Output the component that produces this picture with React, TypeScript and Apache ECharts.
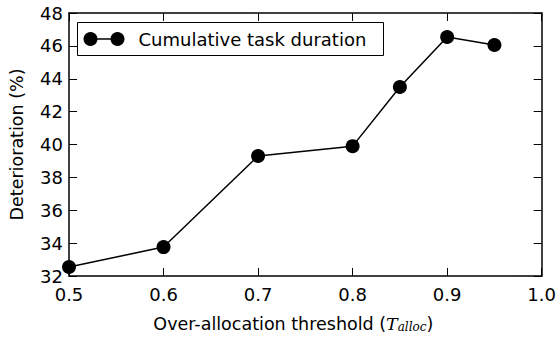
import React, { useEffect, useRef } from "react";
import * as echarts from "echarts";

const thresholds = [0.5, 0.6, 0.7, 0.8, 0.85, 0.9, 0.95];
const deterioration = [32.55, 33.76, 39.3, 39.9, 43.5, 46.54, 46.05];
const seriesName = "Cumulative task duration";
const yLabel = "Deterioration (%)";

const FONT = "DejaVu Sans";

export default function App() {
  const ref = useRef<HTMLDivElement>(null);
  useEffect(() => {
    if (!ref.current) return;
    const chart = echarts.init(ref.current, null, { renderer: "svg" });
    const data = thresholds.map((t, i) => [t, deterioration[i]]);
    const axisLine = { show: true, lineStyle: { color: "#000", width: 1.5 } };
    const tick = { show: true, inside: true, length: 8, lineStyle: { color: "#000", width: 1 } };
    const label = { color: "#000", fontFamily: FONT, fontSize: 18 };
    chart.setOption({
      animation: false,
      backgroundColor: "#fff",
      textStyle: { fontFamily: FONT },
      grid: { left: 68, right: 16, top: 13, bottom: 63 },
      xAxis: [
        {
          type: "value", min: 0.5, max: 1.0, interval: 0.1,
          axisLine, axisTick: tick, splitLine: { show: false },
          axisLabel: { ...label, margin: 9, formatter: (v: number) => v.toFixed(1) },
          name: "{n|Over-allocation threshold (}{i|T}{s|alloc}{n|)}",
          nameLocation: "middle", nameGap: 38,
          nameTextStyle: {
            padding: [0, 24, 0, 0],
            rich: {
              n: { fontFamily: FONT, fontSize: 17.5, color: "#000" },
              i: { fontFamily: "DejaVu Serif", fontStyle: "italic", fontSize: 17.5, color: "#000" },
              s: { fontFamily: "DejaVu Serif", fontStyle: "italic", fontSize: 12, color: "#000", verticalAlign: "bottom", padding: [7, 0, 0, 0] },
            },
          },
        },
        {
          type: "value", position: "top", min: 0.5, max: 1.0, interval: 0.1,
          axisLine, axisTick: tick, axisLabel: { show: false }, splitLine: { show: false },
        },
      ],
      yAxis: [
        {
          type: "value", min: 32, max: 48, interval: 2,
          axisLine, axisTick: tick, splitLine: { show: false },
          axisLabel: { ...label, margin: 6 },
          name: yLabel, nameLocation: "middle", nameGap: 43,
          nameTextStyle: { fontFamily: FONT, fontSize: 17.5, color: "#000" },
        },
        {
          type: "value", position: "right", min: 32, max: 48, interval: 2,
          axisLine, axisTick: tick, axisLabel: { show: false }, splitLine: { show: false },
        },
      ],
      series: [
        {
          name: seriesName,
          type: "line",
          data,
          symbol: "circle",
          symbolSize: 14,
          itemStyle: { color: "#000" },
          lineStyle: { color: "#000", width: 1.5 },
          clip: false,
          z: 5,
        },
      ],
      graphic: [
        {
          type: "group",
          left: 77, top: 22,
          children: [
            { type: "rect", shape: { x: 0, y: 0, width: 306, height: 33 }, style: { fill: "#fff", stroke: "#000", lineWidth: 1 } },
            { type: "line", shape: { x1: 13, y1: 16.5, x2: 40, y2: 16.5 }, style: { stroke: "#000", lineWidth: 1.5 } },
            { type: "circle", shape: { cx: 13, cy: 16.5, r: 7 }, style: { fill: "#000" } },
            { type: "circle", shape: { cx: 40, cy: 16.5, r: 7 }, style: { fill: "#000" } },
            { type: "text", x: 61, y: 17, style: { text: seriesName, fontFamily: FONT, fontSize: 18, fill: "#000", verticalAlign: "middle" } },
          ],
        },
      ],
    });
    return () => chart.dispose();
  }, []);
  return <div ref={ref} style={{ width: 559, height: 339, position: "absolute", left: 0, top: 0 }} />;
}
